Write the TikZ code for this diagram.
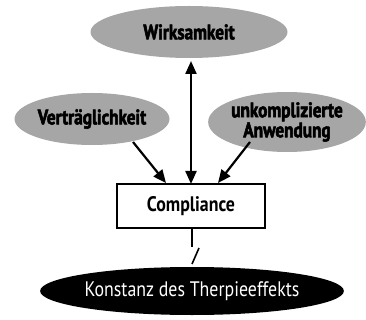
\documentclass[tikz,border=0pt]{standalone}
\usepackage{fontspec}
\setmainfont{PT Sans}
\newfontfamily\condbold{PT Sans Bold}[FakeStretch=0.82,FakeBold=2.5]
\newfontfamily\condreg{PT Sans}[FakeStretch=0.85]
\newfontfamily\condbox{PT Sans Bold}[FakeStretch=0.85]
\usetikzlibrary{shapes.geometric,arrows.meta}
\begin{document}
\begin{tikzpicture}[x=1pt,y=-1pt,
  greyell/.style={ellipse,fill=black!35,inner sep=0pt,font=\condbold\fontsize{21}{19}\selectfont,align=center},
  arr/.style={line width=2.2pt,-{Triangle[length=13pt,width=11pt]}}]
\useasboundingbox (0,0) rectangle (366,320);
\node[greyell,minimum width=197pt,minimum height=52pt] (w) at (189,32) {Wirksamkeit};
\node[greyell,minimum width=155pt,minimum height=52pt] (v) at (92,119) {Verträglichkeit};
\node[greyell,minimum width=141pt,minimum height=60pt] (u) at (287,122) {unkomplizierte\\Anwendung};
\node[draw,line width=2pt,minimum width=148pt,minimum height=44pt,inner sep=0pt,font=\condbox\fontsize{21}{19}\selectfont] (c) at (191,206) {Compliance};
\node[ellipse,fill=black,text=white,minimum width=257pt,minimum height=48pt,inner sep=0pt,font=\condreg\fontsize{21}{19}\selectfont] (k) at (192,291) {Konstanz des Therpieeffekts};
\coordinate (ctop) at (191,184);
\coordinate (wbot) at (191,61);
\draw[line width=2.2pt,{Triangle[length=13pt,width=11pt]}-{Triangle[length=13pt,width=11pt]}] (wbot) -- (ctop);
\coordinate (vs) at (133,142);
\coordinate (vt) at (166,183);
\coordinate (us) at (250,142);
\coordinate (ut) at (218,183);
\draw[arr] (vs) -- (vt);
\draw[arr] (us) -- (ut);
\coordinate (l1) at (192,247);
\coordinate (s1) at (199,248);
\coordinate (s2) at (192,264);
\draw[line width=1.6pt] (c.south -| l1) -- (l1);
\draw[line width=1.6pt] (s1) -- (s2);
\end{tikzpicture}
\end{document}
